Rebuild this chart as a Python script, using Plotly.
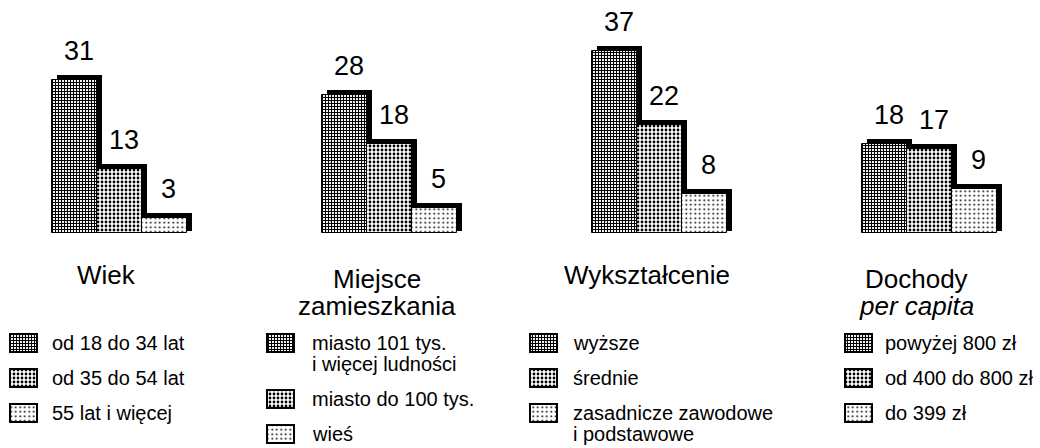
import plotly.graph_objects as go

# ---------------- data ----------------
categories = ["Wiek", "Miejsce zamieszkania", "Wykształcenie", "Dochody per capita"]
title_lines = [["Wiek"], ["Miejsce", "zamieszkania"], ["Wykształcenie"], ["Dochody", "<i>per capita</i>"]]
values_top = [31, 28, 37, 18]
values_mid = [13, 18, 22, 17]
values_low = [3, 5, 8, 9]
legend_wiek = [["od 18 do 34 lat"], ["od 35 do 54 lat"], ["55 lat i więcej"]]
legend_miejsce = [["miasto 101 tys.", "i więcej ludności"], ["miasto do 100 tys."], ["wieś"]]
legend_wyksztalcenie = [["wyższe"], ["średnie"], ["zasadnicze zawodowe", "i podstawowe"]]
legend_dochody = [["powyżej 800 zł"], ["od 400 do 800 zł"], ["do 399 zł"]]

series = [values_top, values_mid, values_low]
legends = [legend_wiek, legend_miejsce, legend_wyksztalcenie, legend_dochody]

# ---------------- layout constants ----------------
W, H = 1040, 448
FONT = "Liberation Sans, Arial, sans-serif"
BAR_PX = 45.0          # one category unit in pixels
GROUP_STEP = 6         # units between groups
FIRST_CENTER_PX = 74.5
BASE_PX = 233.0
PX_PER_UNIT = 4.93
SH_DX = 5.0 / BAR_PX   # shadow offset in x units
SH_DY = 5.0 / PX_PER_UNIT

patterns = [
    dict(shape="+", size=3, solidity=0.6, fgcolor="black", bgcolor="white", fillmode="replace"),
    dict(shape=".", size=4, solidity=0.38, fgcolor="black", bgcolor="white", fillmode="replace"),
    dict(shape=".", size=4.5, solidity=0.15, fgcolor="black", bgcolor="white", fillmode="replace"),
]

fig = go.Figure()

# shadow (3D extrusion) bars
sx, sy = [], []
for g in range(len(categories)):
    for i, vals in enumerate(series):
        sx.append(g * GROUP_STEP + i + SH_DX)
        sy.append(vals[g] + SH_DY * 0.5)
fig.add_trace(go.Bar(x=sx, y=sy, base=SH_DY * 0.5, width=1.0,
                     marker=dict(color="black", line=dict(width=0)),
                     showlegend=False, hoverinfo="skip"))

# main bars
for i, vals in enumerate(series):
    xs = [g * GROUP_STEP + i for g in range(len(categories))]
    fig.add_trace(go.Bar(x=xs, y=vals, width=1.0,
                         marker=dict(color="white", pattern=patterns[i],
                                     line=dict(color="black", width=1)),
                         showlegend=False, hoverinfo="skip"))

annotations = []
# value labels
for i, vals in enumerate(series):
    for g, v in enumerate(vals):
        annotations.append(dict(x=g * GROUP_STEP + i + SH_DX * 0.8, y=v + SH_DY,
                                xref="x", yref="y", text=str(v), showarrow=False,
                                yanchor="bottom", xanchor="center", yshift=7,
                                font=dict(family=FONT, size=27, color="black")))

# group titles (pixel axis x2/y2)
TITLE_FS = 26
title_x = [FIRST_CENTER_PX + BAR_PX + g * GROUP_STEP * BAR_PX - 13 for g in range(len(categories))]
for g, lines in enumerate(title_lines):
    if len(lines) == 1:
        baselines = [284]
    else:
        baselines = [288, 315]
    for ln, b in zip(lines, baselines):
        annotations.append(dict(x=title_x[g], y=b - 0.347 * TITLE_FS, xref="x2", yref="y2",
                                text=ln, showarrow=False, xanchor="center", yanchor="middle",
                                font=dict(family=FONT, size=TITLE_FS, color="black")))

# legends
LEG_FS = 20
swatch_left = [10, 267, 530, 845]
text_left = [50, 310, 571, 883]
SW_W, SW_H = 27, 18
first_base = 350
line_step = 21
entry_step = 35
for g, entries in enumerate(legends):
    b = first_base
    for i, lines in enumerate(entries):
        cap_c = b - 7
        fig.add_trace(go.Bar(x=[swatch_left[g] + SW_W / 2], y=[SW_H], base=[cap_c - SW_H / 2],
                             width=SW_W, xaxis="x2", yaxis="y2",
                             marker=dict(color="white", pattern=patterns[i],
                                         line=dict(color="black", width=2)),
                             showlegend=False, hoverinfo="skip"))
        for k, ln in enumerate(lines):
            lb = b + k * line_step
            annotations.append(dict(x=text_left[g], y=lb - 0.347 * LEG_FS, xref="x2", yref="y2",
                                    text=ln, showarrow=False, xanchor="left", yanchor="middle",
                                    font=dict(family=FONT, size=LEG_FS, color="black")))
        b = b + (len(lines) - 1) * line_step + entry_step

fig.update_layout(
    width=W, height=H,
    margin=dict(l=0, r=0, t=0, b=0),
    paper_bgcolor="white", plot_bgcolor="white",
    barmode="overlay", bargap=0,
    showlegend=False,
    xaxis=dict(range=[-FIRST_CENTER_PX / BAR_PX, (W - FIRST_CENTER_PX) / BAR_PX],
               visible=False, domain=[0, 1]),
    yaxis=dict(range=[-(H - BASE_PX) / PX_PER_UNIT, BASE_PX / PX_PER_UNIT],
               visible=False, domain=[0, 1]),
    xaxis2=dict(range=[0, W], visible=False, overlaying="x", anchor="y2", domain=[0, 1]),
    yaxis2=dict(range=[H, 0], visible=False, overlaying="y", anchor="x2", domain=[0, 1]),
    annotations=annotations,
)

fig.write_html("out.html", config={"displayModeBar": False},
               post_script="document.body.style.margin='0px';document.body.style.overflow='hidden';")
